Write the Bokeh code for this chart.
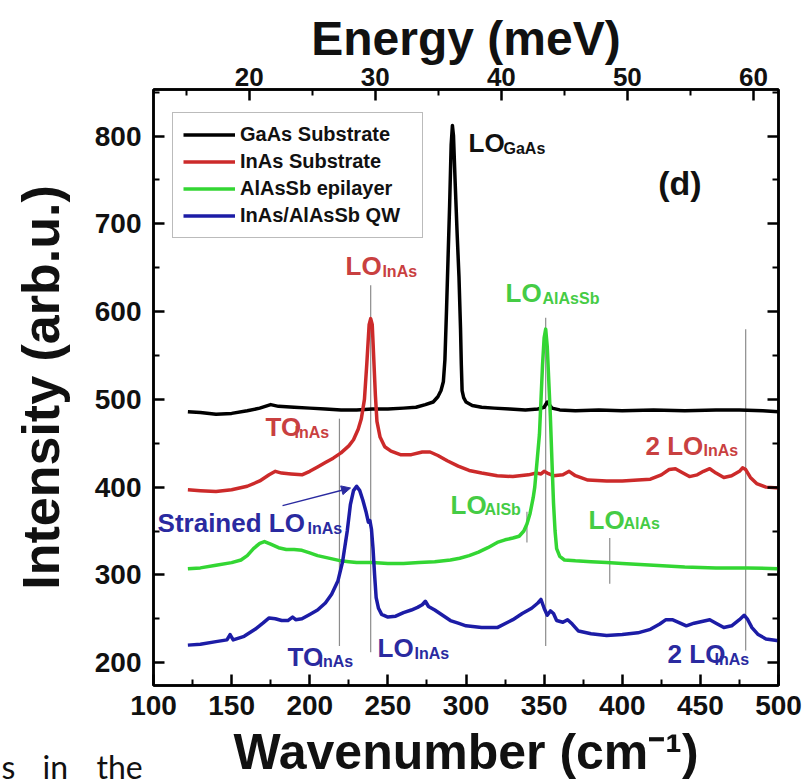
from bokeh.plotting import figure
from bokeh.layouts import column
from bokeh.models import (Range1d, LinearAxis, FixedTicker, Label, Arrow,
                          NormalHead, Legend, LegendItem)
from bokeh.core.properties import value
from bokeh.embed import file_html
from bokeh.resources import INLINE

# ---- Raman spectra (wavenumber in cm^-1, intensity in arb. units) ----
gaas_wn = [122, 130, 140, 150, 160, 168, 175, 180, 190, 200, 210, 220, 230, 240,
           250, 260, 268, 274, 279, 282, 284, 285.5, 286.5, 287.5, 288.5, 289.5,
           290.5, 291.3, 292, 293, 294.3, 295.5, 296.5, 297, 297.5, 298.5, 300,
           304, 310, 318, 328, 338, 346, 350, 352, 355, 360, 370, 385, 400, 420,
           440, 460, 475, 490, 500]
gaas_int = [486, 485, 483, 484, 487, 490, 494, 492, 491, 490, 489, 488, 488, 489,
            489, 490, 491, 494, 497, 503, 510, 520, 545, 600, 660, 720,
            790, 812, 800, 750, 690, 640, 580, 540, 510, 502, 497,
            493, 491, 490, 489, 488, 489, 491, 497, 490, 488, 487, 488, 487, 488,
            487, 488, 488, 487, 486]

inas_wn = [122, 130, 140, 150, 160, 168, 174, 178, 182, 188, 195, 200, 205, 210,
           215, 220, 225, 228, 231, 233, 235, 236.5, 238, 239, 240, 241, 242,
           243, 245, 248, 252, 258, 265, 272, 277, 282, 288, 295, 302, 310, 320,
           330, 340, 345, 348, 350, 352, 356, 362, 366, 370, 378, 390, 400, 410,
           418, 425, 430, 434, 438, 443, 448, 452, 456, 460, 465, 470, 475, 477,
           479, 482, 486, 492, 500]
inas_int = [397, 396, 395, 397, 401, 407, 414, 418, 416, 415, 414, 418, 423, 428,
            433, 439, 447, 454, 466, 478, 500, 540, 585, 592, 585, 545, 505,
            475, 457, 446, 441, 437, 437, 440, 440, 436, 430, 424, 419, 416, 413,
            412, 414, 416, 415, 418, 416, 413, 414, 418, 413, 408, 407, 407, 408,
            409, 414, 420, 421, 417, 412, 414, 418, 421, 416, 411, 413, 418, 422,
            420, 411, 404, 400, 399]

alassb_wn = [122, 130, 140, 150, 156, 160, 164, 168, 171, 175, 180, 185, 190, 195,
             200, 205, 210, 215, 220, 225, 230, 240, 250, 260, 270, 280, 290,
             296, 302, 308, 314, 320, 325, 330, 334, 337, 339, 341, 343, 344,
             345.5, 347, 348, 349, 350, 351, 352, 353, 354, 355, 356, 357, 358,
             360, 363, 370, 380, 390, 400, 420, 440, 460, 480, 500]
alassb_int = [307, 308, 311, 314, 317, 322, 330, 336, 338, 335, 331, 329, 329, 328,
              325, 322, 320, 318, 316, 315, 314, 314, 313, 313, 314, 315, 317,
              319, 322, 326, 331, 337, 340, 342, 344, 350, 358, 370, 388, 400,
              430, 460, 500, 540, 570, 580, 560, 520, 480, 430, 382, 350, 330,
              321, 317, 316, 315, 314, 313, 311, 309, 308, 308, 307]

qw_wn = [122, 130, 140, 147, 149, 151, 158, 165, 170, 174, 178, 182, 186, 189,
         191, 195, 200, 205, 210, 214, 218, 221, 224, 226, 228, 230, 232, 234,
         236, 237.5, 238.5, 239.5, 240.5, 241.5, 242.5, 244, 246, 250, 255, 260,
         265, 269, 272, 274, 276, 280, 285, 290, 295, 300, 310, 320, 330, 336,
         342, 346, 348, 350, 352, 354, 356, 358, 362, 365, 368, 372, 380, 390,
         400, 410, 418, 424, 428, 432, 436, 441, 446, 451, 456, 460, 465, 470,
         475, 478, 480, 483, 487, 492, 500]
qw_int = [220, 221, 224, 226, 232, 226, 230, 238, 245, 251, 250, 248, 248, 252,
          249, 250, 255, 260, 268, 278, 293, 315, 350, 380, 396, 401, 396, 385,
          372, 360, 362, 352, 330, 300, 274, 262, 255, 252, 253, 257,
          260, 263, 266, 270, 264, 260, 254, 248, 245, 242, 240, 240, 249, 256,
          262, 268, 272, 262, 254, 259, 256, 248, 246, 249, 244, 236, 233, 231,
          232, 234, 238, 244, 249, 249, 246, 242, 245, 247, 249, 245, 240, 242,
          249, 254, 250, 240, 232, 227, 225]

series_names = ["GaAs Substrate", "InAs Substrate", "AlAsSb epilayer", "InAs/AlAsSb QW"]
series_colors = ["#000000", "#cc2a2a", "#33d633", "#1c1ca6"]

# Phonon mode markers: wavenumber, lower and upper intensity
marker_wn = [219, 239, 351, 479, 339, 392]
marker_lo = [219, 212, 219, 214, 337, 290]
marker_hi = [478, 630, 593, 580, 372, 342]

# Axis ticks
wn_major = [100, 150, 200, 250, 300, 350, 400, 450, 500]
wn_minor = [125, 175, 225, 275, 325, 375, 425, 475]
int_major = [200, 300, 400, 500, 600, 700, 800]
int_minor = [250, 350, 450, 550, 650, 750, 850]
mev_major = [20, 30, 40, 50, 60]
mev_minor = [15, 25, 35, 45, 55]
CM_PER_MEV = 8.0655

FONT = "Liberation Sans"

p = figure(frame_width=625, frame_height=596,
           x_range=Range1d(100, 500), y_range=Range1d(174, 853),
           output_backend="svg", toolbar_location=None,
           min_border_left=153, min_border_right=25,
           min_border_top=89, min_border_bottom=99,
           background_fill_color="white", border_fill_color="white")
p.frame_align = False
p.extra_x_ranges = {"energy": Range1d(100 / CM_PER_MEV, 500 / CM_PER_MEV)}
p.xgrid.visible = False
p.ygrid.visible = False
p.outline_line_color = "black"
p.outline_line_width = 2.5


def style_axis(ax, standoff, size):
    ax.axis_line_width = 2.5
    ax.major_tick_line_width = 2.5
    ax.minor_tick_line_width = 2
    ax.major_tick_in = 11
    ax.major_tick_out = 0
    ax.minor_tick_in = 6
    ax.minor_tick_out = 0
    ax.major_label_text_font = FONT
    ax.major_label_text_font_style = "bold"
    ax.major_label_text_font_size = size
    ax.major_label_text_color = "#111111"
    ax.major_label_standoff = standoff
    ax.axis_label_text_font = FONT
    ax.axis_label_text_font_style = "bold"
    ax.axis_label_text_color = "#111111"


xax = p.xaxis[0]
xax.ticker = FixedTicker(ticks=wn_major, minor_ticks=wn_minor)
style_axis(xax, 10, "28px")
xax.axis_label = "Wavenumber (cm\u207b\u00b9)"
xax.axis_label_text_font_size = "50px"
xax.axis_label_standoff = 6

yax = p.yaxis[0]
yax.ticker = FixedTicker(ticks=int_major, minor_ticks=int_minor)
style_axis(yax, 12, "28px")
yax.axis_label = "Intensity (arb.u.)"
yax.axis_label_text_font_size = "52px"
yax.axis_label_standoff = 22

top = LinearAxis(x_range_name="energy",
                 ticker=FixedTicker(ticks=mev_major, minor_ticks=mev_minor))
style_axis(top, 4, "26px")
top.axis_label = "Energy (meV)"
top.axis_label_text_font_size = "48px"
top.axis_label_standoff = 0
p.add_layout(top, "above")

right = LinearAxis(ticker=FixedTicker(ticks=int_major, minor_ticks=int_minor))
style_axis(right, 0, "26px")
right.major_label_text_color = None
p.add_layout(right, "right")

# thin guide lines at the phonon modes
p.segment(x0=marker_wn, y0=marker_lo, x1=marker_wn, y1=marker_hi,
          line_color="#8c8c8c", line_width=1.2)

# spectra
renderers = []
for wn, inten, col in zip([gaas_wn, inas_wn, alassb_wn, qw_wn],
                          [gaas_int, inas_int, alassb_int, qw_int], series_colors):
    r = p.line(wn, inten, line_color=col, line_width=3.5, line_join="round")
    renderers.append(r)

legend = Legend(items=[LegendItem(label=n, renderers=[r])
                       for n, r in zip(series_names, renderers)],
                location=(19, 447))
legend.label_text_font = FONT
legend.label_text_font_style = "bold"
legend.label_text_font_size = "20px"
legend.label_text_color = "#111111"
legend.glyph_width = 52
legend.glyph_height = 23
legend.label_height = 23
legend.label_width = 172
legend.label_standoff = 5
legend.spacing = 4
legend.padding = 10
legend.margin = 0
legend.border_line_color = "#777777"
legend.border_line_width = 1.5
legend.background_fill_alpha = 1.0
p.add_layout(legend)

RED_T = "#c94040"
GREEN_T = "#45cc45"
BLUE_T = "#2a2aa0"


def tag(x, y, text, color, size):
    p.add_layout(Label(x=x, y=y, text=text, text_color=color,
                       text_font=FONT, text_font_style="bold",
                       text_font_size=size, text_baseline="alphabetic"))


# mode labels: main text + subscript
tag(301.6, 792, "LO", "#111111", "26px")
tag(324.0, 786, "GaAs", "#111111", "16px")
tag(423, 746, "(d)", "#111111", "34px")

tag(222.9, 652, "LO", RED_T, "26px")
tag(246.5, 646, "InAs", RED_T, "16px")
tag(171.7, 469, "TO", RED_T, "26px")
tag(190.2, 462, "InAs", RED_T, "16px")
tag(414.9, 447, "2 LO", RED_T, "26px")
tag(452.0, 442, "InAs", RED_T, "16px")

tag(325.3, 621, "LO", GREEN_T, "26px")
tag(349.0, 615, "AlAsSb", GREEN_T, "16px")
tag(290.1, 380, "LO", GREEN_T, "26px")
tag(311.8, 375, "AlSb", GREEN_T, "16px")
tag(378.4, 362, "LO", GREEN_T, "26px")
tag(400.8, 358, "AlAs", GREEN_T, "16px")

tag(102.6, 359, "Strained LO", BLUE_T, "26px")
tag(198.6, 353, "InAs", BLUE_T, "16px")
tag(185.8, 206, "TO", BLUE_T, "26px")
tag(205.6, 201, "InAs", BLUE_T, "16px")
tag(243.4, 217, "LO", BLUE_T, "26px")
tag(267.0, 211, "InAs", BLUE_T, "16px")
tag(429.0, 210, "2 LO", BLUE_T, "26px")
tag(459.0, 204, "InAs", BLUE_T, "16px")

p.add_layout(Arrow(end=NormalHead(size=9, fill_color=BLUE_T, line_color=BLUE_T),
                   x_start=182.6, y_start=379, x_end=226.1, y_end=399,
                   line_color=BLUE_T, line_width=1.3))

# running text of the surrounding page, laid over the bottom-left corner
note_words = ["s", "in", "the"]
note_x = [1, 42, 96]
note = figure(width=160, height=64, output_backend="svg", toolbar_location=None,
              x_range=Range1d(0, 160), y_range=Range1d(0, 64),
              x_axis_location=None, y_axis_location=None,
              min_border_left=0, min_border_right=0,
              min_border_top=0, min_border_bottom=0,
              sizing_mode="fixed", margin=(-64, 0, 0, 0))
note.frame_align = False
note.xgrid.visible = False
note.ygrid.visible = False
note.outline_line_color = None
note.background_fill_alpha = 0
note.border_fill_alpha = 0
note.text(x=note_x, y=[18, 18, 18], text=note_words, text_color="#111111",
          text_font=value("Lato"), text_font_size="32px",
          text_baseline="alphabetic")

page = column(p, note, spacing=0, sizing_mode="fixed")
open("out.html", "w").write(file_html(page, INLINE))
